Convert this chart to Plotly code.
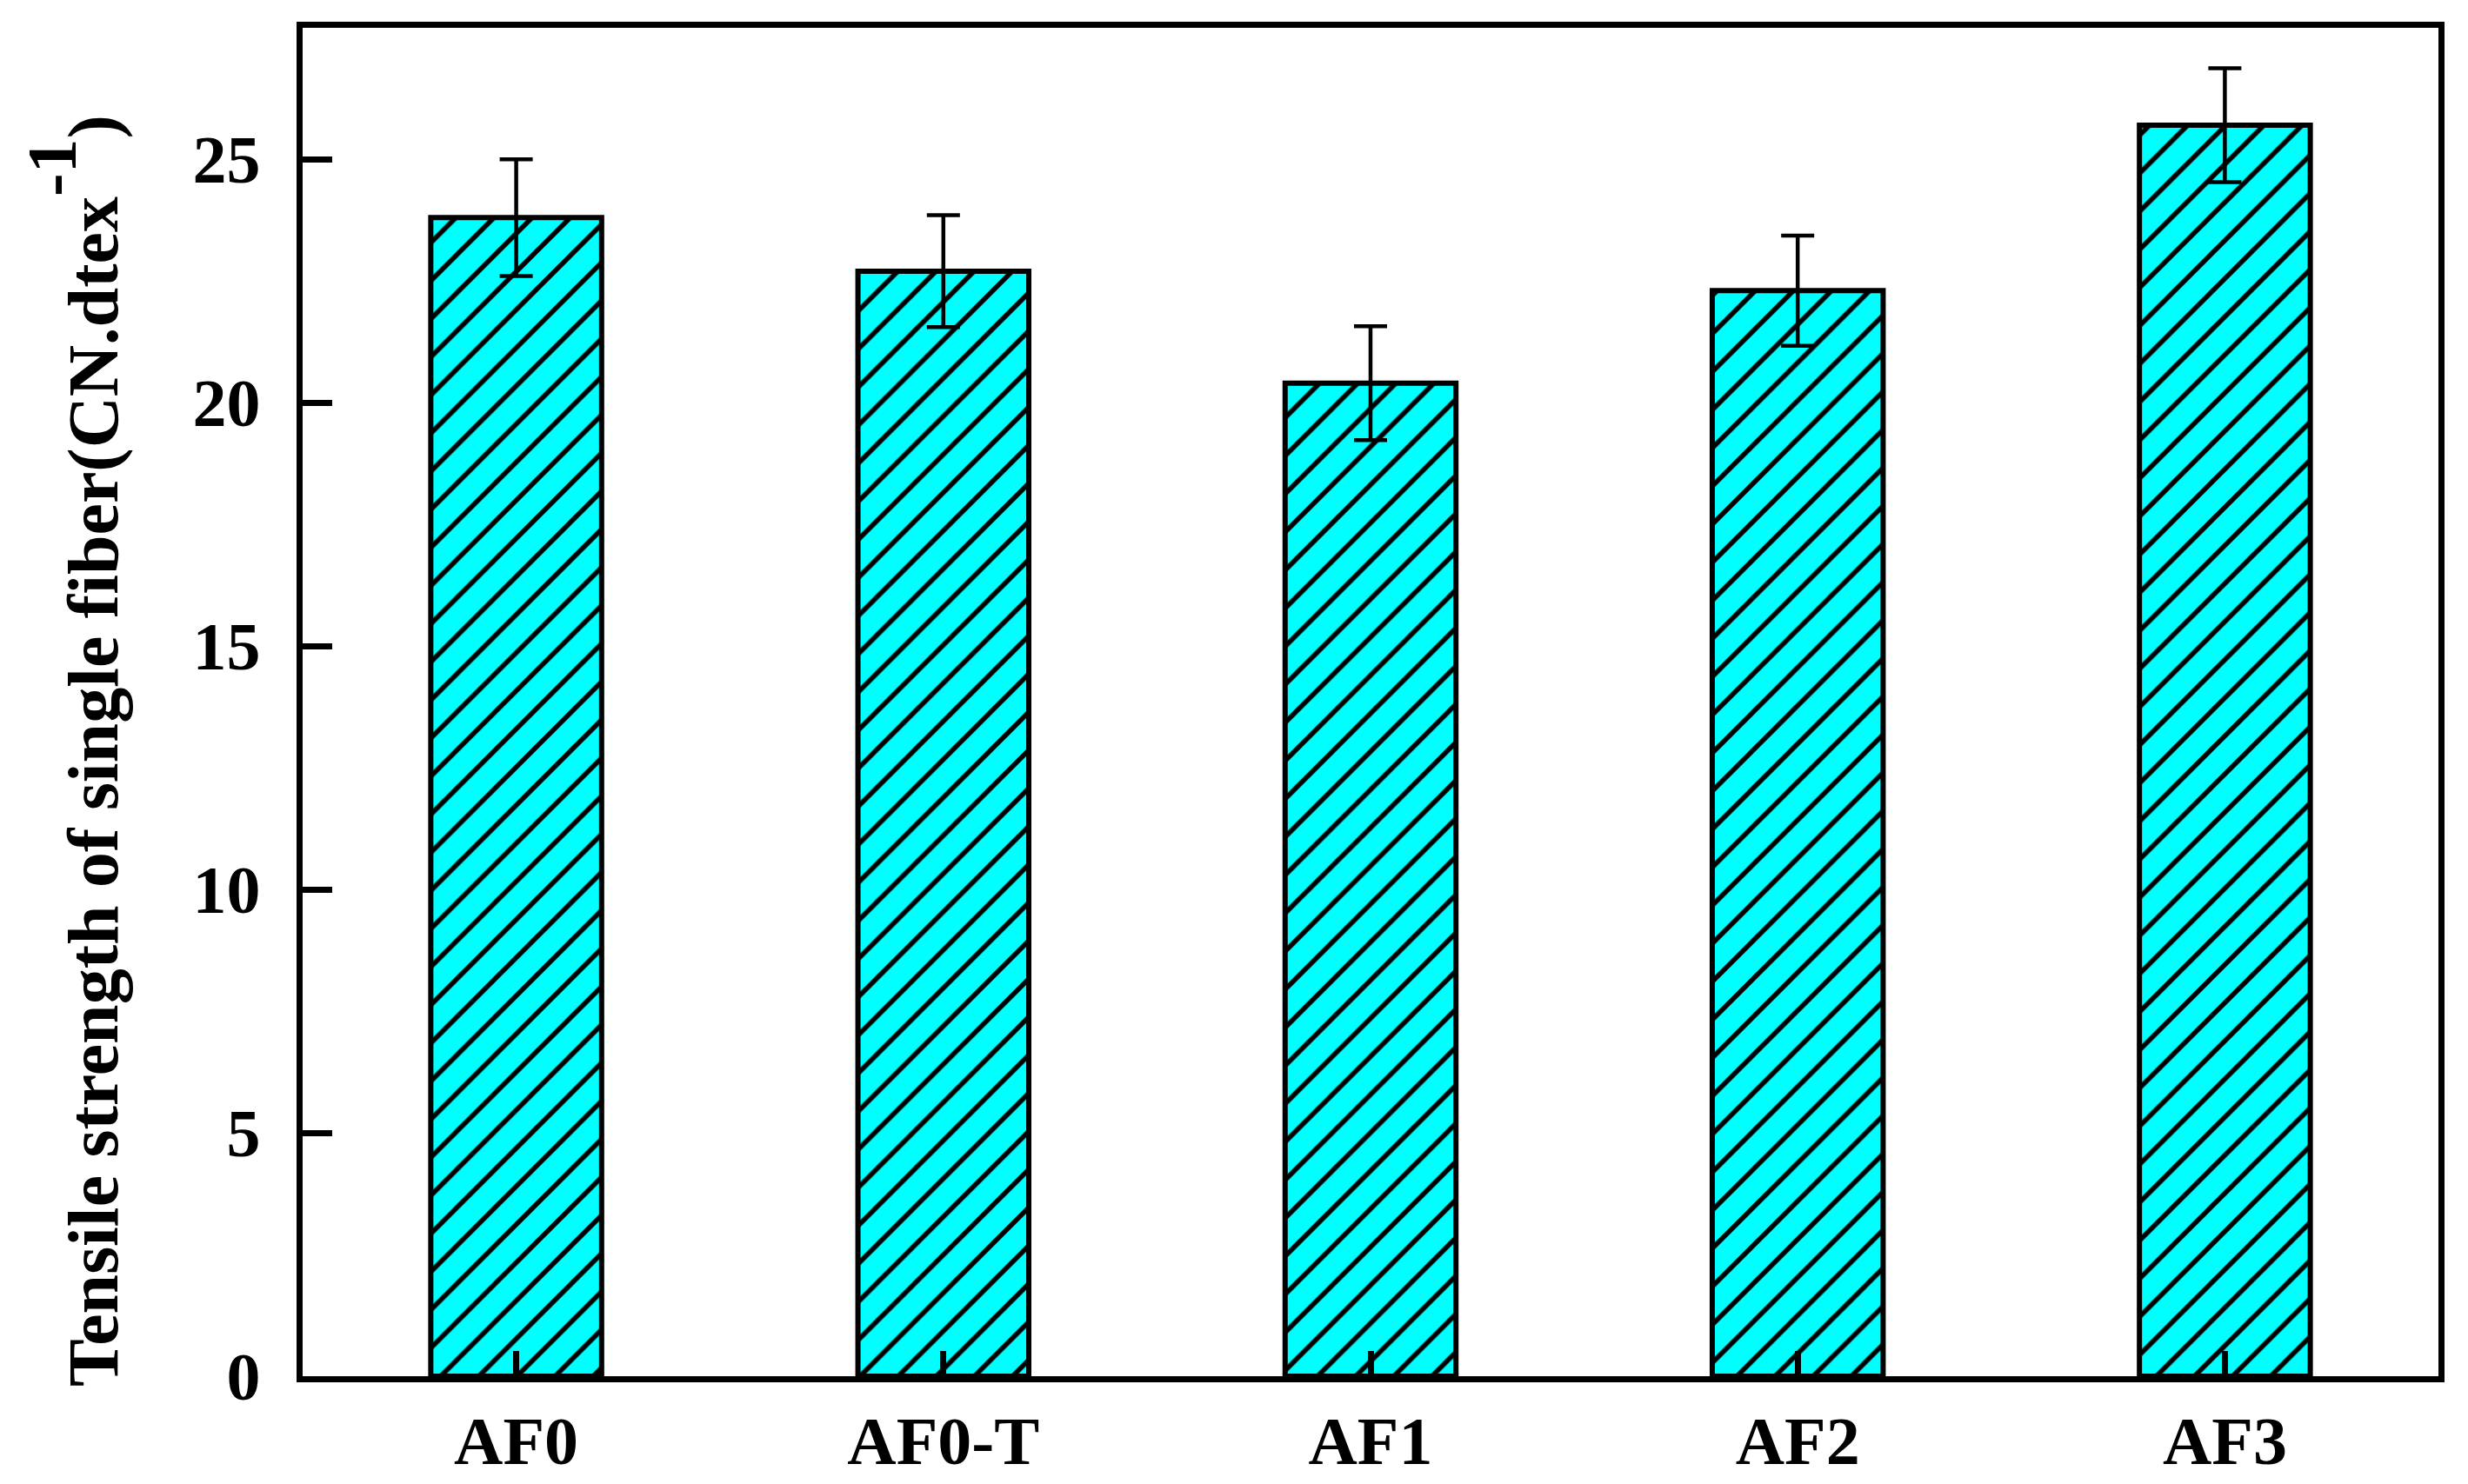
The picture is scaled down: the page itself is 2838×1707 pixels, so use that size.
import plotly.graph_objects as go

categories = ["AF0", "AF0-T", "AF1", "AF2", "AF3"]
strength = [23.8, 22.7, 20.4, 22.3, 25.7]
strength_err = [1.2, 1.15, 1.17, 1.13, 1.17]
y_ticks = [0, 5, 10, 15, 20, 25]

W, H = 2838, 1707
ML, MR, MT, MB = 348, 34, 32, 124

FONT = "Liberation Serif"

fig = go.Figure()
fig.add_trace(go.Bar(
    x=categories,
    y=strength,
    width=0.4,
    marker=dict(
        color="#00FFFF",
        line=dict(color="black", width=6),
        pattern=dict(shape="/", size=31, solidity=0.18,
                     fgcolor="black", bgcolor="#00FFFF", fillmode="replace"),
    ),
    error_y=dict(type="data", array=strength_err, visible=True,
                 color="black", thickness=4.5, width=19),
    showlegend=False,
))

fig.update_layout(
    width=W, height=H,
    margin=dict(l=ML, r=MR, t=MT, b=MB, pad=0, autoexpand=False),
    paper_bgcolor="white", plot_bgcolor="white",
    font=dict(family=FONT, color="black"),
)
fig.update_xaxes(
    range=[-0.5, 4.5],
    automargin=False,
    showline=True, linecolor="black", linewidth=7, mirror=True,
    ticks="inside", ticklen=29, tickwidth=7, tickcolor="black",
    tickfont=dict(family=FONT, size=78, color="black", weight="bold"),
    ticklabelstandoff=0,
    showgrid=False, zeroline=False,
)
fig.update_yaxes(
    range=[0, 27.7],
    automargin=False,
    tickvals=y_ticks,
    showline=True, linecolor="black", linewidth=7, mirror=True,
    ticks="inside", ticklen=34, tickwidth=7, tickcolor="black",
    tickfont=dict(family=FONT, size=78, color="black", weight="bold"),
    ticklabelstandoff=26,
    showgrid=False, zeroline=False,
)

fig.add_annotation(
    text=("<b>Tensile strength of single fiber(CN.dtex"
          "<sup><span style='font-size:80px;baseline-shift:14px'>-1</span></sup>)</b>"),
    textangle=-90,
    xref="paper", yref="paper",
    x=(84 - ML) / (W - ML - MR),
    y=(H - MB - 864) / (H - MT - MB),
    xanchor="center", yanchor="middle",
    showarrow=False,
    font=dict(family=FONT, size=82, color="black"),
)

fig.write_html(
    "out.html",
    config={"displayModeBar": False},
    post_script="document.body.style.margin='0';document.body.style.overflow='hidden';",
)
